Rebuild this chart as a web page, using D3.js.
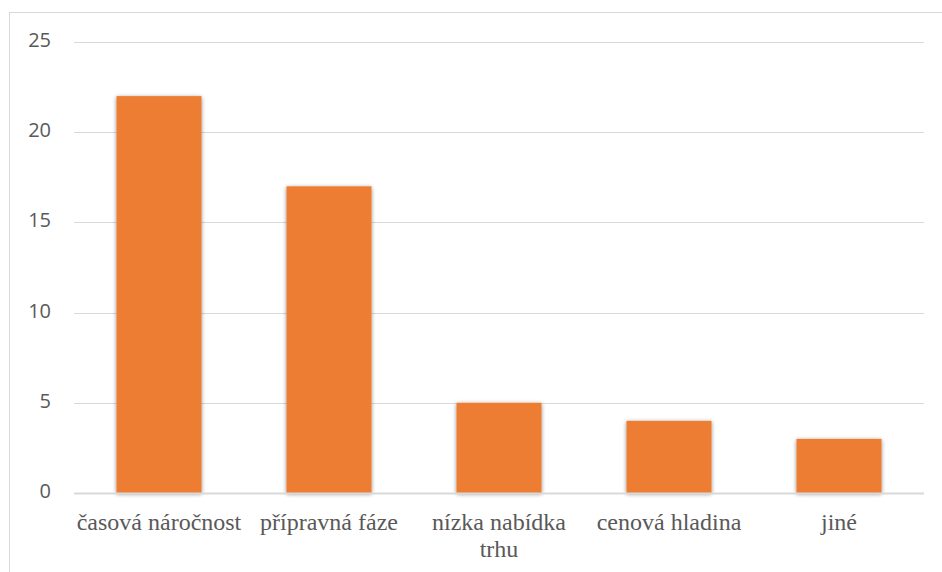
<!DOCTYPE html>
<html>
<head>
<meta charset="utf-8">
<script src="https://cdn.jsdelivr.net/npm/d3@7"></script>
<style>
  html, body { margin: 0; padding: 0; background: #fff; }
  svg { display: block; }
</style>
</head>
<body>
<svg id="chart" width="942" height="572"></svg>
<script>
// Survey results: reasons given
const categories = ["časová náročnost", "přípravná fáze", "nízka nabídka trhu", "cenová hladina", "jiné"];
const values = [22, 17, 5, 4, 3];
const yTicks = [0, 5, 10, 15, 20, 25];

const svg = d3.select("#chart");
const W = 942, H = 572;
const plot = { left: 74, right: 924, top: 42, bottom: 493 };

// outer chart frame (runs off the right and bottom edges)
svg.append("rect")
  .attr("x", 9.5).attr("y", 12.5)
  .attr("width", W + 10).attr("height", H + 10)
  .attr("fill", "none").attr("stroke", "#d9d9d9").attr("stroke-width", 1);

const defs = svg.append("defs");
const f = defs.append("filter").attr("id", "barShadow")
  .attr("x", "-20%").attr("y", "-20%").attr("width", "140%").attr("height", "140%");
f.append("feGaussianBlur").attr("in", "SourceAlpha").attr("stdDeviation", 2.2);
f.append("feOffset").attr("dx", 0).attr("dy", 1).attr("result", "ob");
f.append("feComponentTransfer").append("feFuncA").attr("type", "linear").attr("slope", 0.45);
const m = f.append("feMerge");
m.append("feMergeNode");
m.append("feMergeNode").attr("in", "SourceGraphic");

const x = d3.scaleBand().domain(categories).range([plot.left, plot.right]).paddingInner(0.5).paddingOuter(0.25);
const y = d3.scaleLinear().domain([0, 25]).range([plot.bottom, plot.top]);

// gridlines
svg.append("g").selectAll("line").data(yTicks.filter(d => d > 0)).join("line")
  .attr("x1", plot.left).attr("x2", plot.right)
  .attr("y1", d => Math.round(y(d)) + 0.5).attr("y2", d => Math.round(y(d)) + 0.5)
  .attr("stroke", "#d9d9d9").attr("stroke-width", 1);

// y tick labels
const yAxis = d3.axisLeft(y).tickValues(yTicks).tickSize(0).tickPadding(0);
const ya = svg.append("g").attr("transform", `translate(51,-2)`).call(yAxis);
ya.select(".domain").remove();
ya.attr("font-family", "Open Sans").attr("font-size", 20);
ya.selectAll("text").attr("fill", "#595959");

// bars
svg.append("g").selectAll("rect").data(values).join("rect")
  .attr("x", (d, i) => x(categories[i]))
  .attr("width", x.bandwidth())
  .attr("y", d => y(d))
  .attr("height", d => y(0) - y(d))
  .attr("fill", "#ed7d31")
  .attr("filter", "url(#barShadow)");

// baseline
svg.append("line")
  .attr("x1", plot.left).attr("x2", plot.right)
  .attr("y1", plot.bottom + 0.5).attr("y2", plot.bottom + 0.5)
  .attr("stroke", "#d9d9d9").attr("stroke-width", 2);

// x category labels (wrapped onto two lines where long)
const labelLines = {
  "časová náročnost": ["časová náročnost"],
  "přípravná fáze": ["přípravná fáze"],
  "nízka nabídka trhu": ["nízka nabídka", "trhu"],
  "cenová hladina": ["cenová hladina"],
  "jiné": ["jiné"]
};
const xl = svg.append("g")
  .attr("font-family", "Liberation Serif")
  .attr("font-size", 24)
  .attr("fill", "#595959")
  .attr("text-anchor", "middle");
categories.forEach(c => {
  const cx = x(c) + x.bandwidth() / 2;
  const t = xl.append("text").attr("x", cx).attr("y", 530);
  labelLines[c].forEach((ln, i) => {
    t.append("tspan").attr("x", cx).attr("dy", i === 0 ? 0 : 27).text(ln);
  });
});
</script>
</body>
</html>
